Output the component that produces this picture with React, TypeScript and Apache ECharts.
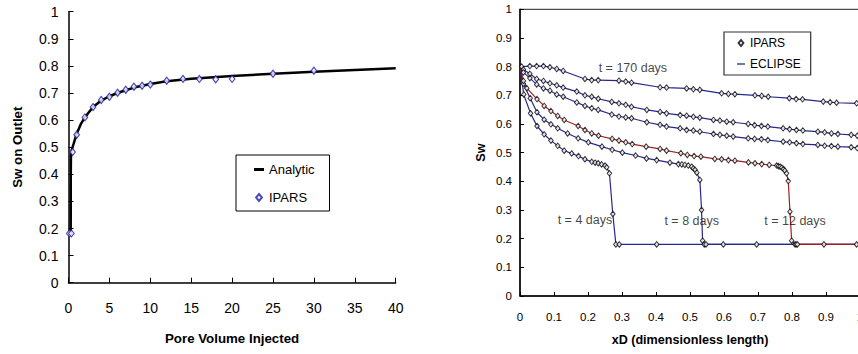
import React, { useEffect, useRef } from "react";
import * as echarts from "echarts";

const FONT = '"Liberation Sans", Arial, Helvetica, sans-serif';

// ---------- Left chart: Sw on outlet vs pore volume injected ----------
const analyticPV = [0.27, 0.28, 0.3, 0.4, 0.6, 0.8, 1, 1.5, 2, 3, 4, 5, 6, 7, 8, 10, 12, 15, 20, 25, 30, 35, 40];
const analyticSw = [0.18, 0.4, 0.47, 0.49, 0.51, 0.53, 0.55, 0.585, 0.61, 0.648, 0.672, 0.688, 0.7, 0.71, 0.72, 0.733, 0.743, 0.753, 0.763, 0.771, 0.778, 0.785, 0.791];
const iparsPV = [0.1, 0.35, 0.5, 1, 2, 3, 4, 5, 6, 7, 8, 9, 10, 12, 14, 16, 18, 20, 25, 30];
const iparsSw = [0.182, 0.182, 0.482, 0.546, 0.61, 0.648, 0.674, 0.686, 0.701, 0.712, 0.723, 0.727, 0.731, 0.745, 0.752, 0.752, 0.751, 0.752, 0.771, 0.782];

// ---------- Right chart: Sw profiles vs xD ----------
const t170X = [0.005, 0.029, 0.049, 0.069, 0.088, 0.108, 0.127, 0.191, 0.211, 0.23, 0.291, 0.311, 0.328, 0.412, 0.431, 0.49, 0.51, 0.529, 0.593, 0.613, 0.632, 0.691, 0.711, 0.73, 0.792, 0.812, 0.831, 0.892, 0.912, 0.931, 0.99];
const t170Y = [0.8, 0.802, 0.802, 0.802, 0.798, 0.792, 0.785, 0.757, 0.753, 0.753, 0.751, 0.748, 0.744, 0.728, 0.727, 0.724, 0.721, 0.719, 0.707, 0.705, 0.704, 0.7, 0.698, 0.695, 0.69, 0.687, 0.686, 0.678, 0.676, 0.674, 0.672];

const midX = [0.01, 0.029, 0.049, 0.069, 0.088, 0.108, 0.127, 0.167, 0.191, 0.211, 0.23, 0.27, 0.291, 0.311, 0.328, 0.373, 0.412, 0.431, 0.471, 0.49, 0.51, 0.529, 0.569, 0.588, 0.608, 0.627, 0.671, 0.69, 0.71, 0.729, 0.774, 0.793, 0.813, 0.832, 0.876, 0.896, 0.916, 0.935, 0.974, 0.992];
const midUpperY = [0.79, 0.775, 0.757, 0.75, 0.742, 0.735, 0.727, 0.713, 0.7, 0.695, 0.688, 0.677, 0.672, 0.667, 0.66, 0.649, 0.642, 0.637, 0.631, 0.629, 0.625, 0.622, 0.614, 0.612, 0.608, 0.606, 0.6, 0.596, 0.593, 0.591, 0.585, 0.582, 0.579, 0.577, 0.573, 0.571, 0.567, 0.565, 0.562, 0.559];
const midLowerY = [0.78, 0.76, 0.738, 0.724, 0.716, 0.703, 0.695, 0.675, 0.663, 0.655, 0.649, 0.633, 0.626, 0.623, 0.62, 0.606, 0.597, 0.591, 0.585, 0.579, 0.577, 0.573, 0.565, 0.562, 0.559, 0.556, 0.55, 0.548, 0.547, 0.544, 0.538, 0.536, 0.533, 0.53, 0.527, 0.524, 0.523, 0.521, 0.519, 0.516];

const t12X = [0.01, 0.02, 0.05, 0.071, 0.091, 0.111, 0.13, 0.171, 0.191, 0.211, 0.231, 0.271, 0.291, 0.311, 0.33, 0.371, 0.412, 0.431, 0.473, 0.492, 0.512, 0.532, 0.573, 0.593, 0.613, 0.632, 0.672, 0.691, 0.711, 0.733, 0.755, 0.76, 0.765, 0.77, 0.775, 0.779, 0.784, 0.789, 0.794, 0.799, 0.809, 0.812, 0.816, 0.894, 0.99];
const t12Y = [0.75, 0.725, 0.687, 0.663, 0.645, 0.628, 0.614, 0.593, 0.579, 0.567, 0.559, 0.548, 0.542, 0.536, 0.53, 0.521, 0.513, 0.507, 0.498, 0.492, 0.488, 0.486, 0.478, 0.477, 0.474, 0.472, 0.466, 0.463, 0.46, 0.457, 0.455, 0.453, 0.451, 0.448, 0.443, 0.437, 0.428, 0.401, 0.294, 0.193, 0.18, 0.18, 0.18, 0.18, 0.18];

const t8X = [0.01, 0.03, 0.05, 0.071, 0.091, 0.111, 0.14, 0.171, 0.201, 0.241, 0.271, 0.301, 0.34, 0.372, 0.402, 0.441, 0.466, 0.476, 0.485, 0.495, 0.505, 0.51, 0.515, 0.52, 0.529, 0.534, 0.537, 0.542, 0.547, 0.598, 0.696];
const t8Y = [0.74, 0.69, 0.641, 0.615, 0.599, 0.585, 0.567, 0.55, 0.536, 0.521, 0.51, 0.5, 0.49, 0.48, 0.474, 0.465, 0.46, 0.459, 0.457, 0.455, 0.451, 0.445, 0.44, 0.43, 0.405, 0.3, 0.193, 0.18, 0.18, 0.18, 0.18];

const t4X = [0.011, 0.031, 0.05, 0.071, 0.091, 0.111, 0.13, 0.152, 0.172, 0.191, 0.211, 0.221, 0.23, 0.24, 0.25, 0.255, 0.263, 0.273, 0.282, 0.292, 0.402];
const t4Y = [0.703, 0.637, 0.593, 0.564, 0.542, 0.524, 0.507, 0.497, 0.488, 0.477, 0.468, 0.465, 0.463, 0.459, 0.455, 0.449, 0.428, 0.286, 0.18, 0.18, 0.18];

// ECLIPSE boundary values: injection end and uninvaded end
const eclipseInletSw = 0.8;
const eclipseOutletSwFront = 0.18;

const annotationTexts = ["t = 170 days", "t = 4 days", "t = 8 days", "t = 12 days"];
const annotationAt = [
  [0.332, 0.795],
  [0.191, 0.265],
  [0.505, 0.263],
  [0.809, 0.263],
];

const zip = (xs: number[], ys: number[]) => xs.map((x, i) => [x, ys[i]]);

const BLUE = "#26288f";
const RED = "#a3201f";

export default function App() {
  const ref = useRef<HTMLDivElement>(null);

  useEffect(() => {
    if (!ref.current) return;
    const chart = echarts.init(ref.current, undefined, { renderer: "svg" });

    const profiles = [
      { x: t170X, y: t170Y, color: BLUE, front: false },
      { x: midX, y: midUpperY, color: BLUE, front: false },
      { x: midX, y: midLowerY, color: BLUE, front: false },
      { x: t8X, y: t8Y, color: BLUE, front: true },
      { x: t4X, y: t4Y, color: BLUE, front: true },
      { x: t12X, y: t12Y, color: RED, front: true },
    ];

    const lineSeries = profiles.map((p) => {
      const pts = zip(p.x, p.y);
      const data = [[0, eclipseInletSw], ...pts];
      if (p.front) data.push([1, eclipseOutletSwFront]);
      return {
        name: "ECLIPSE",
        type: "line",
        xAxisIndex: 1,
        yAxisIndex: 1,
        data,
        symbol: "none",
        color: p.color,
        lineStyle: { color: p.color, width: 1.2 },
        z: 2,
        silent: true,
      };
    });

    const markerSeries = profiles.map((p) => ({
      name: "IPARS_profile",
      type: "scatter",
      xAxisIndex: 1,
      yAxisIndex: 1,
      data: zip(p.x, p.y),
      symbol: "diamond",
      symbolSize: [4.5, 5.5],
      itemStyle: { color: "#ffffff", borderColor: "#000000", borderWidth: 1 },
      z: 3,
      silent: true,
    }));

    const axisLineStyle = { color: "#000", width: 1.5 };
    const labelStyle = (size: number) => ({ color: "#000", fontFamily: FONT, fontSize: size });
    const nameStyle = (size: number) => ({ color: "#000", fontFamily: FONT, fontSize: size, fontWeight: "bold" as const });

    const option = {
      animation: false,
      backgroundColor: "#ffffff",
      grid: [
        { left: 68.5, top: 11.7, width: 327.2, height: 271, show: false },
        { left: 520, top: 9.3, width: 340, height: 286.7, show: true, borderColor: "#222", borderWidth: 1, backgroundColor: "transparent" },
      ],
      xAxis: [
        {
          gridIndex: 0, type: "value", min: 0, max: 40, interval: 5,
          axisLine: { show: true, onZero: false, lineStyle: axisLineStyle },
          axisTick: { show: true, inside: true, length: 5, lineStyle: { color: "#000" } },
          splitLine: { show: false },
          axisLabel: { margin: 18, ...labelStyle(14) },
          name: "Pore Volume Injected", nameLocation: "middle", nameGap: 49,
          nameTextStyle: nameStyle(13.3),
        },
        {
          gridIndex: 1, type: "value", min: 0, max: 1, interval: 0.1,
          axisLine: { show: true, onZero: false, lineStyle: axisLineStyle },
          axisTick: { show: true, inside: true, length: 4, lineStyle: { color: "#000" } },
          splitLine: { show: false },
          axisLabel: { margin: 15, ...labelStyle(11.5) },
          name: "xD (dimensionless length)", nameLocation: "middle", nameGap: 37,
          nameTextStyle: nameStyle(12.6),
        },
      ],
      yAxis: [
        {
          gridIndex: 0, type: "value", min: 0, max: 1, interval: 0.1,
          axisLine: { show: true, onZero: false, lineStyle: axisLineStyle },
          axisTick: { show: true, inside: true, length: 5, lineStyle: { color: "#000" } },
          splitLine: { show: false },
          axisLabel: { margin: 10, ...labelStyle(14) },
          name: "Sw on Outlet", nameLocation: "middle", nameGap: 45,
          nameTextStyle: nameStyle(13.3),
        },
        {
          gridIndex: 1, type: "value", min: 0, max: 1, interval: 0.1,
          axisLine: { show: true, onZero: false, lineStyle: axisLineStyle },
          axisTick: { show: true, inside: true, length: 4, lineStyle: { color: "#000" } },
          splitLine: { show: false },
          axisLabel: { margin: 8, ...labelStyle(11.5) },
          name: "Sw", nameLocation: "middle", nameGap: 33,
          nameTextStyle: nameStyle(12.6),
        },
      ],
      legend: [
        {
          left: 236, top: 155, orient: "vertical", selectedMode: false,
          data: [
            { name: "Analytic", icon: "path://M0,0H10V3H0Z", itemStyle: { borderWidth: 0, color: "#000" } },
            { name: "IPARS", icon: "path://M2.5,0L5,3L2.5,6L0,3Z" },
          ],
          padding: [8, 15, 7, 18], itemGap: 15, itemWidth: 10, itemHeight: 7,
          borderColor: "#000", borderWidth: 1, backgroundColor: "#fff",
          textStyle: { fontSize: 13, color: "#000", fontFamily: FONT },
        },
        {
          left: 724, top: 32, orient: "vertical", selectedMode: false,
          data: [
            { name: "IPARS_profile", icon: "path://M2,0L4,2.5L2,5L0,2.5Z" },
            { name: "ECLIPSE", icon: "path://M0,0H8V1.3H0Z", itemStyle: { borderWidth: 0, color: BLUE } },
          ],
          formatter: (n: string) => (n === "IPARS_profile" ? "IPARS" : n),
          padding: [5, 10, 5, 13], itemGap: 9, itemWidth: 8, itemHeight: 6,
          borderColor: "#333", borderWidth: 1.2, backgroundColor: "#fff",
          textStyle: { fontSize: 12, color: "#000", fontFamily: FONT },
        },
      ],
      series: [
        {
          name: "Analytic", type: "line", xAxisIndex: 0, yAxisIndex: 0,
          data: zip(analyticPV, analyticSw), symbol: "none", color: "#000",
          lineStyle: { color: "#000", width: 2.5 }, z: 2, silent: true,
        },
        {
          name: "IPARS", type: "scatter", xAxisIndex: 0, yAxisIndex: 0,
          data: zip(iparsPV, iparsSw), symbol: "diamond", symbolSize: [5.5, 7],
          itemStyle: { color: "#ffffff", borderColor: "#1c1ca8", borderWidth: 1.2 }, z: 3, silent: true,
        },
        ...lineSeries,
        ...markerSeries,
        {
          name: "annotations", type: "scatter", xAxisIndex: 1, yAxisIndex: 1,
          data: annotationTexts.map((t, i) => ({ name: t, value: annotationAt[i] })),
          symbolSize: 0, silent: true, z: 4,
          label: { show: true, position: "inside", formatter: (p: any) => p.name, color: "#111", fontFamily: FONT, fontSize: 12.5 },
        },
      ],
    };

    chart.setOption(option as any);
    return () => chart.dispose();
  }, []);

  return (
    <div style={{ position: "fixed", left: 0, top: 0, width: 858, height: 354, overflow: "hidden", background: "#fff" }}>
      <div ref={ref} style={{ width: 880, height: 354 }} />
    </div>
  );
}
